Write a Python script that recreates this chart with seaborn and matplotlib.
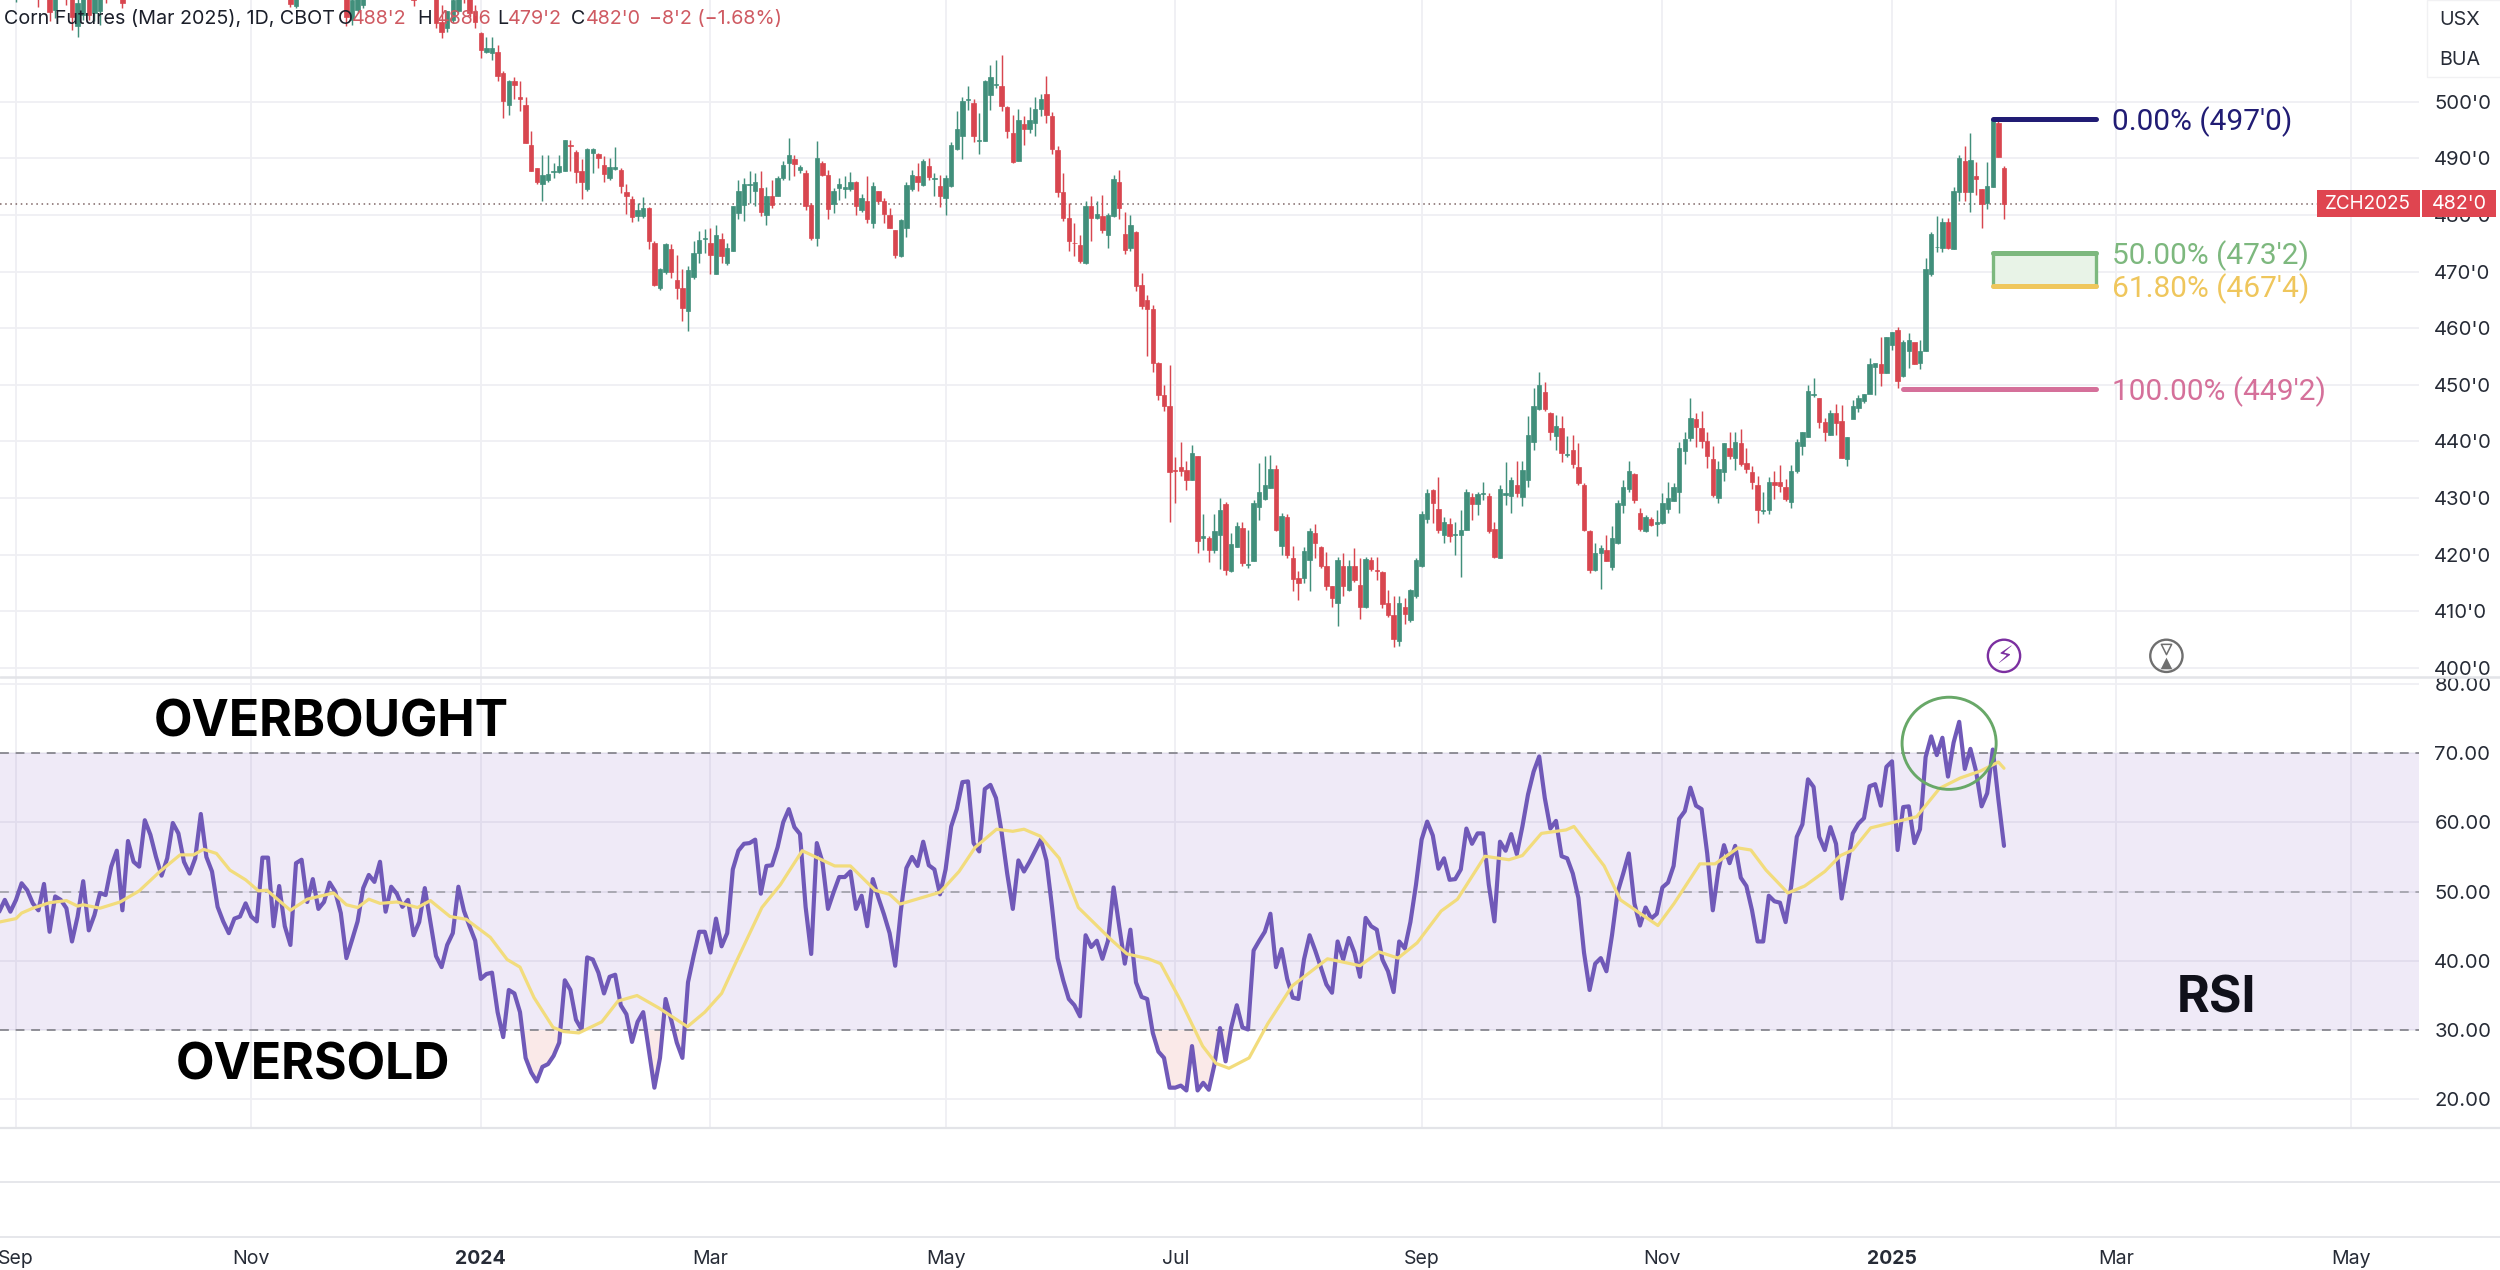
import numpy as np
import pandas as pd
import seaborn as sns
import matplotlib
matplotlib.use("Agg")
import matplotlib.pyplot as plt
from matplotlib.lines import Line2D
from matplotlib.patches import Rectangle, Ellipse

W, H = 2500, 1270

opens = [
519,526,522,525,521,519,523,516.2,522,520,518.5,513.4,515.4,520,515.6,516,521,519,523,525,
518.5,523,521,526,529,526,525,528,531,527,524,527,526,528,530,526,523,526,522,520.5,
524,523,521.5,525,523,526,525,523,521,521,516.9,521,523,526,524,522,524,527,524,522,
514.5,516.2,517,522,525,523,526,529,526,524,522,521,519,522,525,522,514,513,514.5,516,521,519,516,
512.1,508.8,508.6,508.7,505.1,499.5,503.7,500.9,499.5,492.3,488.3,485.5,486.2,487.6,487.5,487.7,492.3,491.2,487.7,484.5,
491,490.8,488.8,486.6,488.2,488,484.1,482.8,479.8,479.8,481.2,475.1,467,470,474,468.5,467,463,469,473.3,
475.8,475,469.5,475.8,471.5,473.6,480.4,481.8,485.2,484.2,484.8,480,483.3,483.3,486.5,489.2,489.8,488,487.4,481.8,
476,489.2,487.1,482,484.8,484.5,
484.5,485.9,480.8,482.5,478.6,484.2,482.5,479.9,477.3,472.7,477.7,484.6,486.8,485.2,488.7,486.3,485.1,483,485.1,491.6,
493.9,500.3,499.8,493,493,501.2,503,502.7,499.1,494.5,489.6,496.1,495.2,496.2,498.8,501.4,497.5,491.5,484,479.5,
475.1,474.6,471.5,481.5,479.5,479.8,476.5,479.8,485.8,476.7,474.2,477,467.7,464.9,463.3,
453.8,448.2,446.3,435,435.5,434.9,433.2,437.4,423,423,420.8,423.5,429,417,421.4,424.7,418.2,418.8,428.4,429.8,
431.8,435.1,421.5,426.7,419.4,415.9,415.8,419,423.8,421.3,417.9,414.4,411.5,417.9,413.8,417.9,414.6,410.7,419,417.3,
416.9,411.4,409.3,404.8,410.8,408.5,412.7,417.9,426.2,431.4,428.1,423.5,425.4,423.4,423.5,424.4,430.2,429,430.7,430.4,
424.5,419.4,430.6,430.4,432.3,430.2,433.2,439.8,445.7,448.7,445,440.9,442.3,437.5,438.4,435.5,432.3,424.2,417.2,420.2,
420.8,417.8,422,428.7,431.6,434.2,427.3,424.1,426.3,425.4,425.5,428,429.5,431,438.3,
440.6,443.9,442.3,440.1,436.9,430,434.6,438.8,437.1,439.7,436.1,434.6,432.3,427.7,427.8,432.8,432.9,431.9,429.3,434.8,
439.1,440.7,448.2,447.7,443.4,441.2,445,443.6,436.9,
444,445.9,447.2,448.4,453.1,453.7,452,457,459.6,451.5,455.9,457.6,453.8,456,469.6,474.3,474.1,478.7,474,484.1,
489.6,484.1,486.9,484.5,482.1,485,496.2,488.3]

highs = [
526,528,527,527,524,523,525,524,524,523,520,519,521,522,522,523,524,524,528,527,
524,526,527,530,531,530,529,532,533,529,528,530,529,531,532,528,527,528,525,525,
527,526,526,527,527,529,528,525,525,523,522,524,527,528,527,525,528,529,526,524,
519,522,523,526,527,527,530,531,528,526,525,523,523,526,527,524,517,516,519,521,522,520,517,
512.4,511.4,511.5,510.1,505.4,503.9,504.3,503.7,500.9,494.8,488.3,490.6,490.6,489.2,490.6,493.2,493.3,491.5,489.8,491.8,
491.8,490.9,490.4,490,492,488.3,485.4,483.3,482.1,483.2,481.4,475.4,470.6,475.1,474.8,473,470.4,470.9,475.4,477.1,
477.5,477.7,478.3,476.8,475,481.5,486.2,486.5,487.7,487.4,487.7,485,486.2,486.8,489.5,493.6,490.6,488.9,488,482.1,
493,489.5,488,484.8,486.5,486.8,
487.5,486,483.7,486.8,485.9,484.2,483,481.2,477.4,479.2,485.9,488,489.2,489.8,490.1,487.4,487,487.1,492.8,498.3,
500.8,502.7,500.4,498,503.9,506.5,507.3,508.3,499.3,497.7,498.8,497.4,499.1,500.8,501.4,504.6,498.2,492.2,487.4,482.1,
478.6,476.5,482.5,483.3,482.5,483.5,480.4,487.1,488,480.5,479.9,477.1,469.8,465.9,464,
454,450,453.5,437.3,439.8,436.6,439.4,437.4,427.2,423.2,427.2,429.9,429.2,423.8,425.8,425.8,424.4,429.7,436.1,437.4,
437.6,435.8,427.3,427.2,421.5,417,421.4,424.7,425.4,421.5,420.5,414.5,419.5,420.2,419.1,421.1,419.4,419.6,419.6,419.6,
417,413.8,412.6,412.6,412.3,413.9,419.4,427.6,431.6,431.6,433.7,426.6,426.4,425.8,427.8,431.6,430.8,431,432.9,430.8,
425.7,432.3,436.4,433.7,436.6,436.6,444.4,449.4,452.2,450.5,445.2,444.7,444.4,440.9,441.1,439.7,432.6,424.4,422.1,421.7,
423.5,425.1,429.7,433.2,436.5,434.4,428.3,427,426.7,427.8,430.8,432.9,432.6,439.8,441.7,
447.6,445,445.4,441.7,439.1,436.6,439.7,441.7,441.6,442.2,438.8,435.6,433.9,431,433.7,434.8,435.9,433.3,435.9,440.4,
441.7,450,451.2,447.7,444.1,445.6,446.6,446.4,440.7,
447.3,448.2,448.4,454.8,453.7,458.4,458.4,459.4,460.2,457.9,459.2,457,457.9,472.4,476.9,479.8,479.4,479.4,485,490.6,
492.2,494.4,489.4,484.5,489.3,497,496.6,488.7]

lows = [
517.7,521,520,520,516.8,518.5,514.2,514.8,519,517.1,512.7,511.4,514.5,514.5,514.2,513.6,517.4,518.5,522,516.5,
518.2,520,520,525,525,524,523,527,526,523,523,525,524,526,525,522,521,521,519.5,519.5,
522,520.5,520,522,521,524,522,520,519,516.8,516.5,519,522,523,521,520,523,523,521,513.3,
513.6,515.6,516.5,520,522,521,525,525,522,520,519.5,516.9,518.5,521,522,513,511.2,512.4,513.9,515.6,517.4,515,513,
507.7,508.6,507.4,503.6,497.1,497.7,500.4,498.3,492.7,487.7,485.4,482.4,485.9,486.5,487.4,487.7,487.7,485.6,482.8,484.2,
487.4,488.3,485.8,486.2,488,483.9,480.1,478.7,478.9,479.5,473.9,467.4,466.8,469.5,468.9,465.1,461.2,459.5,468.6,471.5,
473.3,469.5,469.5,471.5,471.2,473.6,479.2,478.9,482.1,481.5,479.8,478.3,481.2,483.3,486.2,486.2,486.8,487.4,480.9,475.6,
474.5,486.8,479.2,480.4,482.7,483,
484.2,479.9,480.6,478.6,477.7,482.1,478.6,477.7,472.4,472.6,476.1,484.2,484.2,485.1,486.2,483.3,481.4,479.9,484.9,491.4,
489.9,498.6,492.8,490.8,493,498.6,502.4,498.3,493.6,489.1,489.5,492.4,494.4,493.9,497.4,496.2,490.8,483.2,478.9,473.6,
472.7,471.5,471.4,475.4,479.2,476.8,474.2,479.6,479.2,473.1,473.6,466.5,463.3,455,452.3,
447.3,445.3,425.8,429.1,433.8,431.4,433.2,420.2,420.8,418.6,420.2,417.4,416.4,416.9,421.3,417.9,417.7,418.8,426.1,429.7,
431.7,424.1,419.9,419.4,413.5,411.9,414.9,413.6,419.4,417.6,413.8,410.8,407.3,412.6,413.5,415.2,408.6,410.5,417,415.5,
410.5,409,403.7,403.9,407.7,408,412.3,417.8,425.5,425.5,423.8,422,422.2,420,416,424.3,426.1,427,429.7,423.8,
419.4,419.3,428.8,427.4,430.2,428.5,432,438.5,445.6,445.3,440.2,438.5,436.4,437.2,435.3,432.3,424.2,416.7,417,413.9,
418.8,417.3,421.9,427.4,431.1,429.1,424.2,423.9,425.1,423.2,425.4,427.4,429.5,427.4,436,
440,439,438.8,435.3,430.1,429.1,433,436.9,435,435.7,434.4,431.6,425.5,427.2,427.2,429.8,431,429.4,428.2,434.4,
437.5,440.7,447.8,442.4,440,441.2,441.2,437,435.7,
445.2,445.2,446.7,452.2,448.2,449.7,452,456.2,449.4,451.4,452.9,453.7,452.7,456,469.2,473.5,473.4,474,474,482.5,
482.5,480.6,483.6,477.7,481,485,490.2,479.2]

closes = [
524,522,525,521,519,522,515.9,522,520,518.5,515,517.5,519,515.4,520,521,519,523,527,517.4,
523,521,526,529,526,525,528,531,527,524,527,526,528,530,526,523,526,522,520,524,
523,521.5,525,523,526,525,523,521,524,517.3,521,523,526,524,522,524,527,524,522,515,
518,521,522,525,523,526,529,526,524,522,524,518,522,525,523,513.9,512.4,516,518,520,519,515.6,514,
509.2,509.5,509.5,504.6,500.1,503.6,503,500.4,492.7,487.7,485.9,487,487.3,487.8,488.7,493.2,492.1,487.5,485.9,491.6,
491.6,490,487.2,488.4,488.4,485.1,483.4,479.6,480.8,481.2,475.4,467.7,470.5,474.8,470,467.1,463.5,470.2,473.3,475.6,
475.9,473,476.5,472.7,474.2,481.5,484.2,485.4,485.4,485.8,480.5,483.3,481.8,486.5,488.9,490.6,489,488.4,481.5,476,
490,487.1,481,484.2,485.5,485,
485.9,481.5,483,479.2,485.1,482.4,480.2,477.7,472.9,479.1,485.2,487,485.9,489.6,486.7,486.5,483.3,486.5,492.3,495.2,
500.1,500.5,493.9,493.2,503.6,504.3,503.2,499.3,494.8,489.3,496.7,495.2,496.7,498.8,500.4,497.7,491.7,484,479.5,475.4,
475,471.9,481.5,479.5,480.2,477.3,479.9,486.4,481.2,473.8,478.3,467.5,463.9,463.3,453.8,
448.2,446.2,434.5,434.8,434.8,433.2,437.9,422.4,423.3,420.8,424.2,427.8,417.3,421.9,425,418.5,418.4,429.1,431,432.2,
435.1,424.4,426.8,419.9,415.6,415,420.7,424.2,422,417.9,414.4,412.3,419,414.5,417.9,415.5,410.8,419.2,417.4,417.1,
411.3,409.3,405.1,411.4,409.5,413.8,419,427.2,430.9,429.1,424.4,425.8,423.2,423.6,424.4,431,429,430.7,430.9,424.1,
419.6,431.6,430.8,433.2,430.9,434.9,441.1,446.3,450,445.7,441.6,442.7,438,437.8,436,432.7,424.4,417.2,420.2,421.1,
418.9,423,429.1,431.9,434.8,429.7,424.5,426.7,425.2,425.7,429.1,430,431.9,438.8,440.4,
444.1,442.6,440.1,437.4,430.5,435.1,439.7,437.4,439.8,436,435.1,432.9,427.8,427.9,432.9,432.3,432.1,429.8,434.8,439.9,
441.7,448.9,448.4,443.4,441.7,445,443.3,437,440.7,
446.2,447.6,448.4,453.7,453.8,452,458.4,459.4,450.6,457.6,457.9,453.7,455.9,470.4,476.6,474.3,478.7,474.1,484.3,490,
484.1,489.7,486.4,481.9,485.1,497,490.2,482]

rsi_values = [
47.1,48.8,47.1,48.8,51.2,50.2,48.3,47.3,51.1,44.2,49.3,48.8,47.6,42.8,46.4,51.5,44.4,46.6,49.8,49.5,
53.6,55.9,47.3,57.3,54.3,53.6,60.3,58.2,55,52.3,54.8,59.9,58.4,54.3,52.6,54.8,61.2,55,52.9,47.8,
45.7,44,46.1,46.4,48.3,46.4,45.7,54.9,54.9,45,50.8,45,42.3,54.1,54.6,48.5,51.8,47.5,48.5,51.3,
50,46.9,40.4,43,45.7,50.5,52.4,51.4,54.3,47.1,50.7,49.7,
47.8,48.8,43.7,45.6,50.5,45.6,40.7,39.1,42.3,44,50.7,47.2,45,42.9,37.4,38.1,38.3,32.6,29,35.8,
35.3,32.6,26,23.9,22.6,24.7,25.1,26.3,28.2,37.2,35.8,31.5,30.1,40.5,40.2,38.3,35.3,37.7,38,33.6,
32.3,28.3,31.2,32.6,27.1,21.7,26,34.5,31.5,28.2,26,36.9,40.7,44.2,44.2,41.2,46.1,42.1,44,53.2,
55.9,56.9,57,57.5,49.7,53.7,53.8,56.4,60,61.9,59.3,58.3,47.8,41,57,54.3,47.5,49.9,52.1,52.1,
52.9,47.5,49.4,45,51.8,49.1,46.7,44,39.3,47.2,53.4,55,53.7,57.2,53.8,53.2,49.6,53.2,59.4,61.9,
65.8,65.9,57,55.8,64.8,65.4,63.5,58.6,52.6,47.5,54.5,52.9,54.3,55.9,57.5,54.5,47.8,40.4,37.2,34.5,
33.6,32,43.7,42,42.9,40.3,42.9,50.6,45,39.6,44.5,36.9,34.8,34.5,29.6,26.9,26,21.7,21.7,22,
21.3,27.7,21.3,22.4,21.4,25,30.3,25.5,30.4,33.6,30.4,30.1,41.5,42.9,44.2,46.8,39.1,41.7,37.4,34.7,
34.5,40.2,43.7,41.5,39.1,36.6,35.4,42.8,40.2,43.3,41.2,37.7,46.2,45,44.5,40.2,38.5,35.5,42.8,41.8,
45.6,51,57.5,60.1,58.1,53.3,54.8,51.7,51.8,53.2,59.1,56.9,58.4,58.4,51,45.7,57.2,55.9,58.3,55.4,
59.4,64,67.3,69.5,63.5,59.1,60.2,55.1,54.8,52.6,49.1,41.2,35.8,39.6,40.4,38.5,43.7,49.9,52.6,55.5,
48.3,45.1,47.7,46.1,46.8,50.6,51.3,53.7,60.5,61.6,65,62.4,
61.9,55.5,47.3,53.1,56.7,54.1,56.6,52,50.8,47.3,42.8,42.8,49.4,48.6,48.4,45.6,50.8,57.9,59.7,66.2,
65.1,57.9,56,59.3,56.9,49,53.7,58.4,59.8,60.6,65.2,65.5,62.4,68,68.8,56,62.2,62.3,57,59,
69.4,72.4,69.7,72.2,66.6,71.5,74.5,67.7,70.6,67.4,62.3,64.2,70.5,63.3,56.6]

ma_bar = [-3,0,1,3,6,9,11,12,15,18.6,22,25.7,29.3,31.7,33.5,35.8,38.2,41,43.3,44.8,49,52,56.7,59,61,63,65,68,
71.7,74,77.5,80.4,84.7,87.7,90,92.5,95.9,97.8,100.5,104.6,107.5,110.9,114.8,119.9,123,126,128.8,133.2,136.5,140.4,143.3,146.2,149,
153.4,156,157.9,165,168.4,171.3,175.1,178,180,182.9,186.3,189.7,192.1,195.5,198.4,202.2,204.4,208,211.9,214.3,216.6,220.2,223.5,227.9,231.3,234.2,240,243.4,246.8,250.2,254.5,257.4,262.3,266.6,269,272.4,276.8,278.2,283.6,286.5,289.4,293.2,296.1,300.7,
303.4,307.5,309.8,312.5,316.4,319.4,323,325.8,328,331.2,335.8,339.4,343.5,347.2,350.8,354,355]
ma_values = [45.6,46.1,46.9,47.6,48.4,48.7,47.9,48.1,47.6,48.5,50.1,52.9,55.3,55.3,56.1,55.5,53.1,51.7,50.1,50.2,47.3,48.9,49.8,48.1,47.7,48.9,48.3,48.5,
47.7,48.7,46.4,46,43.4,40.2,39.1,34.7,30.4,29.8,29.6,31.2,34.2,35,33.2,30.5,32.6,35.3,40.2,47.7,51,55.9,54.8,53.7,53.7,
50.2,49.6,48.2,49.9,52.9,56.4,59,58.7,59,58,54.8,47.7,45.8,43.1,41,40.3,39.6,34.2,27.7,25.2,24.5,26,30.9,36.4,38.5,40.3,39.3,41.3,40.4,42.6,47.2,48.9,55.1,54.6,55.2,58.4,58.9,59.4,53.7,48.8,47.2,45.1,48.3,54,
54,56.3,56,53.1,49.8,50.8,52.9,55.2,56,59.2,60.1,60.8,64.9,66.4,67.4,68.7,67.8]

time_ticks = [0,42,83,124,166,207,251,294,335,375,417]
time_labels = ["Sep","Nov","2024","Mar","May","Jul","Sep","Nov","2025","Mar","May"]
bold_labels = ["2024","2025"]
price_ticks = list(range(400,501,10))
rsi_ticks = [20,30,40,50,60,70,80]

fib_levels = [497.0,473.25,467.5,449.25]
fib_starts = [353,353,353,337]
fib_end = 371.4
fib_names = ["0.00% (497'0)","50.00% (473'2)","61.80% (467'4)","100.00% (449'2)"]
fib_colors = ["#211C74","#7DB87E","#EFC65C","#D5709A"]
last_price = 482.0

GREEN="#418F7B"; RED="#D8464F"

sns.set_theme(style="white")
FONT=["Inter","DejaVu Sans"]
plt.rcParams["font.family"]=FONT
plt.rcParams["axes.unicode_minus"]=False

fig=plt.figure(figsize=(W/100,H/100),dpi=100,facecolor="white")
def fx(p): return p/W
def fy(p): return 1-p/H
RIGHT=2419; PB=677; RB=1128
ax=fig.add_axes([0,fy(PB),RIGHT/W,PB/H])
ar=fig.add_axes([0,fy(RB),RIGHT/W,(RB-PB)/H])
XL=(-16/5.6,(RIGHT-16)/5.6)

for a in (ax,ar):
    a.set_xlim(*XL)
    a.set_facecolor("white")
    for s in a.spines.values(): s.set_visible(False)
    a.yaxis.tick_right()
    a.set_xticks(time_ticks)
    a.grid(True,color="#EFEFF3",lw=1.3)
    a.set_axisbelow(True)
    a.set_xlabel(""); a.set_ylabel("")
ax.set_ylim(398.36,517.97)
ar.set_ylim(15.88,80.97)

# candles
n=len(closes)
bars=np.arange(n)
o=np.array(opens,float);h=np.array(highs,float);l=np.array(lows,float);c=np.array(closes,float)
cols=[GREEN if cc>=oo else RED for oo,cc in zip(o,c)]
ax.vlines(bars,l,h,colors=cols,lw=1.05,zorder=3)
ax.bar(bars,np.abs(c-o),bottom=np.minimum(o,c),width=0.76,color=cols,edgecolor=cols,lw=0.5,zorder=3)

ax.axhline(last_price,color="#7D6464",lw=1.1,ls=(0,(1,2.4)),zorder=2.6)

# fib
ax.add_patch(Rectangle((fib_starts[1],fib_levels[2]),fib_end-fib_starts[1],fib_levels[1]-fib_levels[2],
             facecolor="#E8F3E7",edgecolor="#7DB87E",lw=2.4,zorder=4))
for lv,st,col,name in zip(fib_levels,fib_starts,fib_colors,fib_names):
    ax.hlines(lv,st,fib_end,color=col,lw=3.6,capstyle="round",zorder=5)
    ax.text((2112-16)/5.6,lv-0.5,name,color=col,fontsize=21.5,family=["Roboto","DejaVu Sans"],va="center",ha="left",zorder=6)

# icons (lightning glyph, hourglass built from markers)
ax.scatter([355],[402.1],s=540,facecolors="none",edgecolors="#7B2FA0",lw=1.7,zorder=6,clip_on=False)
ax.text(355,402.0,"\u26A1",color="#7B2FA0",fontsize=17,ha="center",va="center",family="DejaVu Sans",zorder=7)
ax.scatter([384],[402.1],s=540,facecolors="none",edgecolors="#6F6F6F",lw=1.7,zorder=6,clip_on=False)
ax.scatter([384],[403.3],s=55,marker="v",facecolors="white",edgecolors="#6F6F6F",lw=1.1,zorder=7)
ax.scatter([384],[400.9],s=70,marker="^",color="#6F6F6F",lw=0,zorder=7)

# RSI
ar.axhspan(30,70,color="#7E57C2",alpha=0.12,lw=0,zorder=1)
DASH=(0,(5.8,4.4))
ar.axhline(70,color="#76767E",lw=1.1,ls=DASH,zorder=2.6)
ar.axhline(50,color="#9A9AA2",lw=1.1,ls=DASH,zorder=2.6)
ar.axhline(30,color="#76767E",lw=1.1,ls=DASH,zorder=2.6)
rsi_bar=np.arange(356-len(rsi_values),356)
rv=np.array(rsi_values,float)
ar.fill_between(rsi_bar,rv,30,where=rv<30,interpolate=True,color="#FAE9E8",lw=0,zorder=2)
df=pd.DataFrame({"bar":rsi_bar,"rsi":rv})
dm=pd.DataFrame({"bar":ma_bar,"ma":ma_values})
sns.lineplot(data=df,x="bar",y="rsi",ax=ar,color="#7059B8",lw=3.0,estimator=None,zorder=4)
sns.lineplot(data=dm,x="bar",y="ma",ax=ar,color="#F2DC7C",lw=2.3,estimator=None,zorder=5)
ar.add_patch(Ellipse((345.2,71.4),16.8,13.3,fill=False,edgecolor="#68A868",lw=2.1,zorder=6))
ar.set_xlabel("");ar.set_ylabel("")

# ticks
TXT="#262B36"
ax.set_yticks(price_ticks)
ax.set_yticklabels([f"{v}'0" for v in price_ticks])
ar.set_yticks(rsi_ticks)
ar.set_yticklabels([f"{v}.00" for v in rsi_ticks])
for a in (ax,ar):
    a.tick_params(axis="y",length=0,pad=11,labelsize=14.6,labelcolor=TXT,right=False,labelright=True,left=False,labelleft=False)
ax.tick_params(axis="x",length=0,labelbottom=False)
ar.set_xticklabels(time_labels)
ar.tick_params(axis="x",length=0,pad=(1259-RB)*0.72,labelsize=14,labelcolor=TXT)
for lab in ar.get_xticklabels():
    lab.set_va("center")
    if lab.get_text() in bold_labels: lab.set_fontweight("bold")

# strips
for yy,cc,lw in [(PB,"#E3E4E8",1.8),(RB,"#E3E4E8",1.6),(1182,"#E6E7EB",1.4),(1237,"#E6E7EB",1.4)]:
    fig.add_artist(Line2D([0,1],[fy(yy),fy(yy)],color=cc,lw=lw,transform=fig.transFigure,zorder=3))

# annotations
def T(px,py,s,**k):
    fig.text(fx(px),fy(py),s,**k)
BIG=dict(fontsize=36,fontweight="bold",color="black",ha="center",va="center",zorder=10)
T(331,723,"OVERBOUGHT",**BIG)
T(313,1066,"OVERSOLD",**BIG)
T(2216,999,"RSI",**{**BIG,"color":"#10101A"})

# header
HD=dict(fontsize=14.2,va="center",ha="left",zorder=10)
HR="#CF5A62"
T(4,19,"Corn Futures (Mar 2025), 1D, CBOT",color="#1B1F2A",**HD)
for px,s,col in [(338,"O","#1B1F2A"),(352,"488'2",HR),(417,"H","#1B1F2A"),(437,"488'6",HR),(497,"L","#1B1F2A"),
                 (508,"479'2",HR),(571,"C","#1B1F2A"),(586,"482'0",HR),(649,"\u22128'2 (\u22121.68%)",HR)]:
    T(px,19,s,color=col,**HD)

# USX/BUA box
fig.add_artist(Rectangle((fx(2427),fy(77)),fx(80),77/H,transform=fig.transFigure,facecolor="white",edgecolor="#F1F1F3",lw=1,zorder=9))
T(2460,20,"USX",fontsize=14.2,color=TXT,ha="center",va="center",zorder=10)
T(2460,60,"BUA",fontsize=14.2,color=TXT,ha="center",va="center",zorder=10)

# price label
LBL="#DF4550"
fig.add_artist(Rectangle((fx(2317),fy(217)),fx(103),27/H,transform=fig.transFigure,facecolor=LBL,edgecolor=LBL,lw=0,zorder=9))
fig.add_artist(Rectangle((fx(2422),fy(217)),fx(74),27/H,transform=fig.transFigure,facecolor=LBL,edgecolor=LBL,lw=0,zorder=9))
T(2368,204,"ZCH2025",fontsize=13.6,color="white",ha="center",va="center",zorder=10)
T(2459,204,"482'0",fontsize=14.2,color="white",ha="center",va="center",zorder=10)

fig.savefig("out.png",dpi=100,facecolor="white")
